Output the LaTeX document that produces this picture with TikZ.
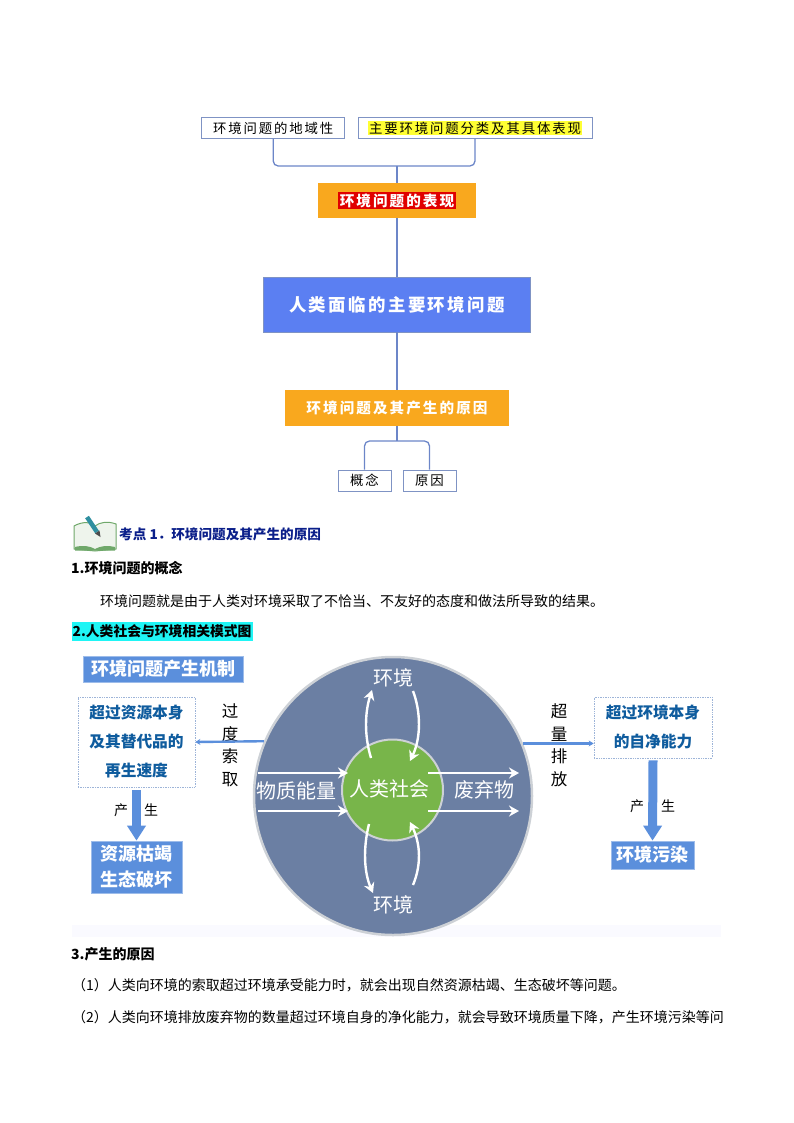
\documentclass[tikz,border=0pt]{standalone}
\usepackage{fontspec}
\setmainfont{Noto Sans CJK SC}
\usetikzlibrary{arrows.meta}
\definecolor{linkblue}{HTML}{6C86C8}
\definecolor{boxedge}{HTML}{7F93C4}
\definecolor{headorange}{HTML}{F9A81E}
\definecolor{mainblue}{HTML}{5B7FF2}
\definecolor{stepblue}{HTML}{5B8FDC}
\definecolor{dotblue}{HTML}{9DB4D8}
\definecolor{textblue}{HTML}{0F5C9E}
\definecolor{outerblue}{HTML}{6B7FA3}
\definecolor{outeredge}{HTML}{CDD1D6}
\definecolor{innergreen}{HTML}{78B54A}
\definecolor{navyhead}{HTML}{0B1F8A}
\definecolor{markcyan}{HTML}{1FF5F5}
\definecolor{markred}{HTML}{E00000}
\definecolor{markyellow}{HTML}{FFFF33}
\definecolor{pagetint}{HTML}{EEF4EC}
\definecolor{bookgreen}{HTML}{6FA86A}
\definecolor{penteal}{HTML}{2F8FA0}
\newfontfamily\spaced[LetterSpace=14]{Noto Sans CJK SC}
\tikzset{
  link/.style={draw=linkblue,line width=1.3pt,rounded corners=5pt},
  leaf/.style={rectangle,draw=boxedge,line width=1pt,fill=white,minimum height=21pt,inner sep=0pt,font=\fontsize{13.4}{15}\spaced},
  head/.style={rectangle,fill=headorange,minimum height=35pt,inner sep=0pt,text=white,font=\fontsize{14.6}{16}\spaced\bfseries},
  mechbox/.style={rectangle,draw=dotblue,densely dotted,line width=.7pt,fill=white,align=center,inner sep=0pt,text=textblue,font=\fontsize{15.7}{29}\bfseries},
  stepbox/.style={rectangle,fill=stepblue,draw=stepblue!60,line width=.7pt,align=center,inner sep=0pt,text=white,font=\fontsize{18}{26}\bfseries},
  thin arrow/.style={-{Stealth[length=5pt,width=6pt]},draw=stepblue,line width=2.4pt},
  big arrow/.style={-{Triangle[length=15pt,width=18pt]},draw=stepblue,line width=9pt},
  flow/.style={-{Stealth[length=10pt,width=11pt]},draw=white,line width=2.4pt},
  onblue/.style={inner sep=0pt,text=white,font=\fontsize{20}{22}\selectfont},
  side/.style={inner sep=0pt,align=center,font=\fontsize{16.5}{22.5}\selectfont},
  tiny/.style={inner sep=0pt,font=\fontsize{14}{16}\selectfont},
  body/.style={inner sep=0pt,anchor=west,font=\fontsize{14}{16}\selectfont}
}
\begin{document}
\begin{tikzpicture}[x=1pt,y=-1pt]
    \useasboundingbox (0,0) rectangle (794,1123);
    % upper tree
    \node[leaf,minimum width=143pt] (region) at (273.2,128) {环境问题的地域性};
    \node[leaf,minimum width=234pt] (major) at (475,128) {};
    \node[inner sep=1pt,fill=markyellow,font=\fontsize{13.4}{15}\spaced] (majortext) at (475,128) {主要环境问题分类及其具体表现};
    \node[head,minimum width=158pt] (show) at (397,200.5) {};
    \node[inner sep=1.5pt,fill=markred,text=white,font=\fontsize{14.6}{16}\spaced\bfseries] (showtext) at (397,200.5) {环境问题的表现};
    \node[rectangle,fill=mainblue,draw=boxedge,minimum width=267pt,minimum height=55pt,text=white,font=\fontsize{17.4}{19}\spaced\bfseries] (main) at (397,304.5) {人类面临的主要环境问题};
    \node[head,minimum width=224pt,minimum height=36pt] (cause) at (397,408) {环境问题及其产生的原因};
    \node[leaf,minimum width=53pt] (idea) at (364.5,480.5) {概念};
    \node[leaf,minimum width=53pt] (reason) at (429.5,480.5) {原因};
    \coordinate (topjoin) at (397,166);
    \coordinate (lowjoin) at (397,441);
    \draw[link] (region.south) |- (topjoin) -| (major.south);
    \draw[link] (topjoin) -- (show.north);
    \draw[link] (show.south) -- (main.north);
    \draw[link] (main.south) -- (cause.north);
    \draw[link] (cause.south) -- (lowjoin);
    \draw[link] (idea.north) |- (lowjoin) -| (reason.north);
    % book icon
    \draw[draw=bookgreen,fill=pagetint,line width=1pt] (74,526) .. controls (83,521) and (91,522) .. (95,526) .. controls (100,522) and (108,521) .. (116,524) -- (116,549) -- (95,551) -- (74,549) -- cycle;
    \fill[bookgreen] (75,547) .. controls (83,545) and (90,546) .. (95,549) .. controls (100,546) and (108,545) .. (115,547) -- (115,550.5) -- (75,550.5) -- cycle;
    \draw[draw=penteal,line width=4.5pt] (87,517) -- (97,532);
    \fill[black!70] (95,533.5) -- (99.5,530.5) -- (100.5,537) -- cycle;
    % text lines
    \node[body,text=navyhead,font=\fontsize{13.6}{15}\bfseries] (pointhead) at (119,534) {考点 1．环境问题及其产生的原因};
    \node[body,font=\fontsize{14}{15}\bfseries] (sec1) at (71,568) {1.环境问题的概念};
    \node[body] (sec1text) at (100,601) {环境问题就是由于人类对环境采取了不恰当、不友好的态度和做法所导致的结果。};
    \node[body,fill=markcyan,minimum height=19pt,inner xsep=1pt,font=\fontsize{13.8}{15}\bfseries] (sec2) at (71.5,631.5) {2.人类社会与环境相关模式图};
    \node[body,font=\fontsize{14}{15}\bfseries] (sec3) at (71,954) {3.产生的原因};
    \node[body] (line1) at (72,985) {（1）人类向环境的索取超过环境承受能力时，就会出现自然资源枯竭、生态破坏等问题。};
    \node[body] (line2) at (72,1017) {（2）人类向环境排放废弃物的数量超过环境自身的净化能力，就会导致环境质量下降，产生环境污染等问};
    % model figure
    \fill[blue!2] (72,925) rectangle (721,937);
    \node[circle,fill=outerblue,draw=outeredge,line width=2.5pt,minimum size=278pt,inner sep=0pt] (outer) at (393,796) {};
    \node[circle,fill=innergreen,draw=outeredge,line width=2pt,minimum size=101pt,inner sep=0pt] (society) at (392.5,790) {};
    \node[onblue] (societytext) at (389,789) {人类社会};
    \node[onblue] (envup) at (393,678) {环境};
    \node[onblue] (envdown) at (393,905) {环境};
    \node[onblue] (matter) at (296,791) {物质能量};
    \node[onblue] (waste) at (484,790) {废弃物};
    \node[stepbox,minimum width=160pt,minimum height=26pt,font=\fontsize{18}{20}\bfseries] (mechtitle) at (163,669) {环境问题产生机制};
    \node[mechbox,minimum width=117pt,minimum height=90pt] (resource) at (136.5,742) {超过资源本身\\及其替代品的\\再生速度};
    \node[mechbox,minimum width=118pt,minimum height=61pt] (clean) at (653,727.5) {超过环境本身\\的自净能力};
    \node[stepbox,minimum width=91pt,minimum height=52pt] (exhaust) at (136.5,867) {资源枯竭\\生态破坏};
    \node[stepbox,minimum width=83pt,minimum height=28pt,font=\fontsize{18}{20}\bfseries] (pollute) at (652.5,855) {环境污染};
    \node[side] (take) at (230,745) {过\\度\\索\\取};
    \node[side] (emit) at (559,745) {超\\量\\排\\放};
    \node[tiny] (chan1) at (121,810) {产};
    \node[tiny] (sheng1) at (151,810) {生};
    \node[tiny] (chan2) at (637,806) {产};
    \node[tiny] (sheng2) at (668,806) {生};
    \draw[thin arrow] (outer.157.3) -- (resource.east);
    \draw[thin arrow] (outer.22.7) -- (outer.22.7 -| clean.west);
    \draw[big arrow] (resource.south) ++(0,3) -- (exhaust.north);
    \draw[big arrow] (clean.south) ++(0,2) -- (pollute.north);
    % white arrows
    \coordinate (inA) at (258,773);
    \coordinate (inB) at (258,811);
    \coordinate (inAend) at (348,773);
    \coordinate (inBend) at (348,811);
    \coordinate (outA) at (428,773);
    \coordinate (outB) at (428,811);
    \coordinate (outAend) at (519,773);
    \coordinate (outBend) at (519,811);
    \draw[flow] (inA) -- (inAend);
    \draw[flow] (inB) -- (inBend);
    \draw[flow] (outA) -- (outAend);
    \draw[flow] (outB) -- (outBend);
    \draw[flow] (371,758) .. controls (364,735) and (365,712) .. (372,690);
    \draw[flow] (413,691) .. controls (421,712) and (421,738) .. (410,761);
    \draw[flow] (369,824) .. controls (363,848) and (364,872) .. (373,893);
    \draw[flow] (413,885) .. controls (421,866) and (421,845) .. (410,822);
\end{tikzpicture}
\end{document}
